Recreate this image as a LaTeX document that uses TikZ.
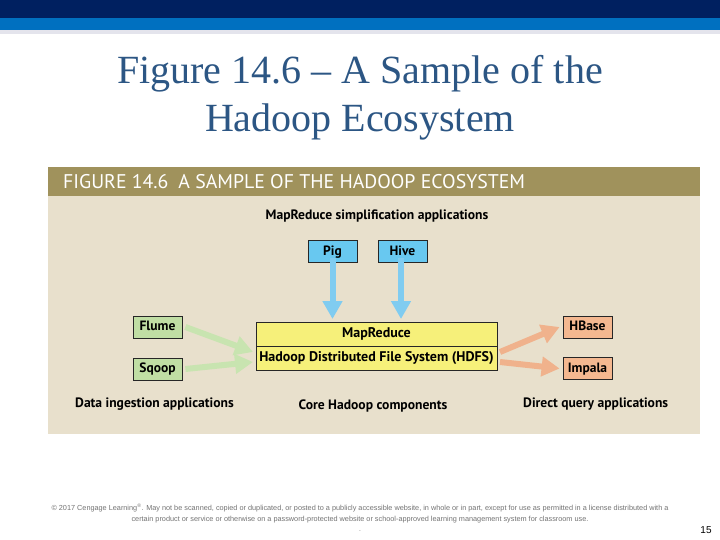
\documentclass[tikz,border=0pt]{standalone}
\usepackage{fontspec}
\setmainfont{Liberation Serif}
\newfontfamily\figfont{PT Sans}
\newfontfamily\footfont{Liberation Sans}
\usetikzlibrary{arrows.meta}
\definecolor{navy}{RGB}{0,32,96}
\definecolor{bandblue}{RGB}{0,112,192}
\definecolor{stripgray}{RGB}{228,228,236}
\definecolor{titleblue}{RGB}{44,86,132}
\definecolor{headolive}{RGB}{160,146,92}
\definecolor{panelbeige}{RGB}{232,224,204}
\definecolor{boxblue}{RGB}{104,200,240}
\definecolor{arrblue}{RGB}{128,204,240}
\definecolor{boxyellow}{RGB}{246,240,122}
\definecolor{boxgreen}{RGB}{192,222,164}
\definecolor{arrgreen}{RGB}{200,228,176}
\definecolor{boxsalmon}{RGB}{244,184,144}
\definecolor{arrsalmon}{RGB}{240,178,140}
\begin{document}
\begin{tikzpicture}[x=1pt,y=-1pt,
  appbox/.style={draw=black!85, line width=0.8pt, minimum width=49pt, minimum height=22pt, inner sep=0pt,
    text height=9.5pt, text depth=2.5pt,
    font=\figfont\bfseries\fontsize{13.5}{15}\selectfont},
  corebox/.style={draw=black!85, line width=0.8pt, fill=boxyellow, minimum width=241pt, minimum height=24pt, inner sep=0pt,
    text height=10pt, text depth=3pt,
    font=\figfont\bfseries\fontsize{14}{16}\selectfont},
  fatarrow/.style={line width=6pt, -{Triangle[length=18pt,width=19pt]}},
  caption/.style={font=\figfont\bfseries\fontsize{13.6}{15}\selectfont, inner sep=0pt}
]
\useasboundingbox (0,0) rectangle (720,540);
\fill[white] (0,0) rectangle (720,540);
% top bands
\fill[navy] (0,0) rectangle (720,18);
\fill[bandblue] (0,18) rectangle (720,30);
\fill[stripgray] (0,30) rectangle (720,34);
% title
\node[titleblue, font=\fontsize{40}{48}\selectfont, align=center, inner sep=0pt, anchor=base] (title) at (360,132)
  {Figure 14.6 -- A Sample of the\\Hadoop Ecosystem};
% panel
\fill[panelbeige] (48,167) rectangle (700,434);
\fill[headolive] (48,167) rectangle (700,196);
\node[white, anchor=west, inner sep=0pt, font=\figfont\fontsize{19.8}{22}\selectfont] (head) at (63,181.5)
  {FIGURE 14.6\enspace A SAMPLE OF THE HADOOP ECOSYSTEM};
\node[caption] (simp) at (377,216) {MapReduce simplification applications};
% Pig / Hive
\node[appbox, fill=boxblue] (pig) at (332.5,251.5) {Pig};
\node[appbox, fill=boxblue] (hive) at (402.5,251.5) {Hive};
% core
\node[corebox] (mr) at (376.5,334) {MapReduce};
\node[corebox] (hdfs) at (376.5,358) {Hadoop Distributed File System (HDFS)};
% ingestion
\node[appbox, fill=boxgreen] (flume) at (157.5,327) {Flume};
\node[appbox, fill=boxgreen] (sqoop) at (157.5,369) {Sqoop};
% query
\node[appbox, fill=boxsalmon] (hbase) at (587.5,327) {HBase};
\node[appbox, fill=boxsalmon] (impala) at (587.5,368.5) {Impala};
% arrows
\coordinate (pigEnd) at (332.5,319);
\coordinate (hiveEnd) at (401,319);
\draw[fatarrow, arrblue] ([yshift=5pt]pig.south) -- (pigEnd);
\draw[fatarrow, arrblue] ([yshift=5pt,xshift=-1.5pt]hive.south) -- (hiveEnd);
\coordinate (flIn) at (253,352);
\coordinate (sqIn) at (253,362);
\draw[fatarrow, arrgreen] ([xshift=3pt]flume.east) -- (flIn);
\draw[fatarrow, arrgreen] ([xshift=3pt]sqoop.east) -- (sqIn);
\coordinate (hbOut) at (500,352);
\coordinate (imOut) at (500,362);
\draw[fatarrow, arrsalmon] (hbOut) -- ([xshift=-3pt]hbase.west);
\draw[fatarrow, arrsalmon] (imOut) -- ([xshift=-3pt]impala.west);
% captions
\node[caption, anchor=west] (ingest) at (75,404.5) {Data ingestion applications};
\node[caption] (core) at (373,406) {Core Hadoop components};
\node[caption, anchor=west] (direct) at (523,404.5) {Direct query applications};
% footer
\node[black!55, font=\footfont\fontsize{7.3}{11}\selectfont, align=center, inner sep=0pt] (foot) at (360,513.5)
  {\textcopyright{} 2017 Cengage Learning\textsuperscript{\textregistered}. May not be scanned, copied or duplicated, or posted to a publicly accessible website, in whole or in part, except for use as permitted in a license distributed with a\\
   certain product or service or otherwise on a password-protected website or school-approved learning management system for classroom use.};
\node[font=\footfont\fontsize{5}{6}\selectfont, inner sep=0pt] (dot) at (360,531) {.};
\node[font=\footfont\fontsize{10}{12}\selectfont, inner sep=0pt] (pnum) at (706,530) {15};
\end{tikzpicture}
\end{document}
